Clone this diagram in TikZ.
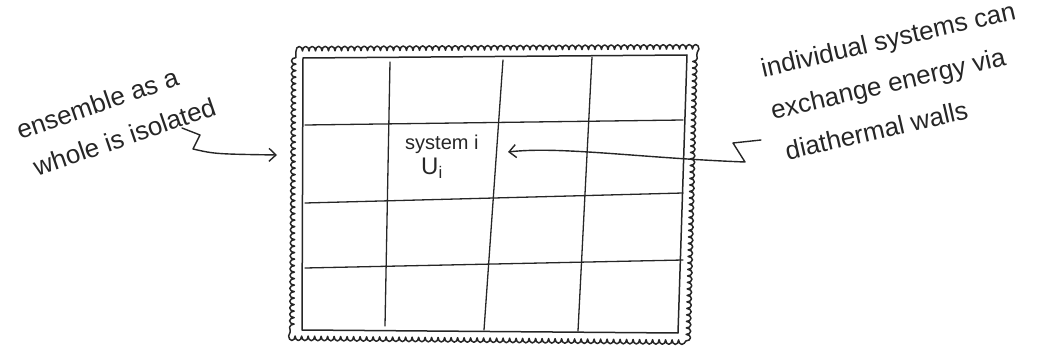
\documentclass[tikz,border=0pt]{standalone}
\usepackage{fontspec}
\setmainfont{Liberation Sans}
\usetikzlibrary{arrows.meta, positioning, decorations.pathmorphing}

\begin{document}
\begin{tikzpicture}[
    x=1pt, y=-1pt, % pixel-like units, y pointing down
    >={Straight Barb[length=7pt,width=13pt]}, % open hand-drawn tip
    ink/.style={draw=black!85, line width=1.5pt, line cap=round, line join=round},
    wall/.style={ink, decorate, decoration={bumps, segment length=13pt, amplitude=4.5pt}},
    gridline/.style={ink, line width=1.3pt},
    note/.style={text=black!85, align=left, inner sep=0pt},
    small/.style={text=black!85, inner sep=0pt},
    pointer/.style={ink, ->, line width=1.4pt}
]
    \useasboundingbox (0,0) rectangle (1042,350);

    % Outer (isolating) wall of the ensemble
    \draw[wall] (296,51) -- (693,49) -- (686,340) -- (294,336) -- cycle;

    % Inner frame
    \draw[ink] (303,58) -- (687,55) -- (678,333) -- (302,330) -- cycle;

    % Vertical diathermal walls
    \foreach \xa/\ya/\xb/\yb in {390/62/385/326, 503/60/484/330, 592/57/578/331} {
        \draw[gridline] (\xa,\ya) -- (\xb,\yb);
    }

    % Horizontal diathermal walls
    \foreach \ya/\yb in {125/120, 203/193, 268/260} {
        \draw[gridline] (305,\ya) -- (683,\yb);
    }

    % One system of the ensemble
    \node[small, font=\fontsize{20}{24}\selectfont, anchor=base west] (sysname) at (405,150) {system i};
    \node[small, font=\fontsize{24}{28}\selectfont, anchor=north west] (sysenergy) at (421,158) {U\textsubscript{i}};

    % Labels
    \node[note, font=\fontsize{26}{40}\selectfont, rotate=19, anchor=north west] (isolated) at (14,122)
        {ensemble as a\\\hspace*{4pt}whole is isolated};
    \node[note, font=\fontsize{26}{43}\selectfont, rotate=13, anchor=north west] (diathermal) at (759,59)
        {individual systems can\\exchange energy via\\\hspace*{5pt}diathermal walls};

    % Arrows
    \coordinate (leftstart) at (182,128);
    \coordinate (leftwall) at (277,155);
    \draw[pointer] (leftstart) -- (200,135) -- (193,149) .. controls (215,154) .. (leftwall);

    \coordinate (rightstart) at (761,140);
    \coordinate (systip) at (508,152);
    \draw[pointer] (rightstart) -- (733,143) -- (745,162) .. controls (640,158) and (560,146) .. (systip);

\end{tikzpicture}
\end{document}
